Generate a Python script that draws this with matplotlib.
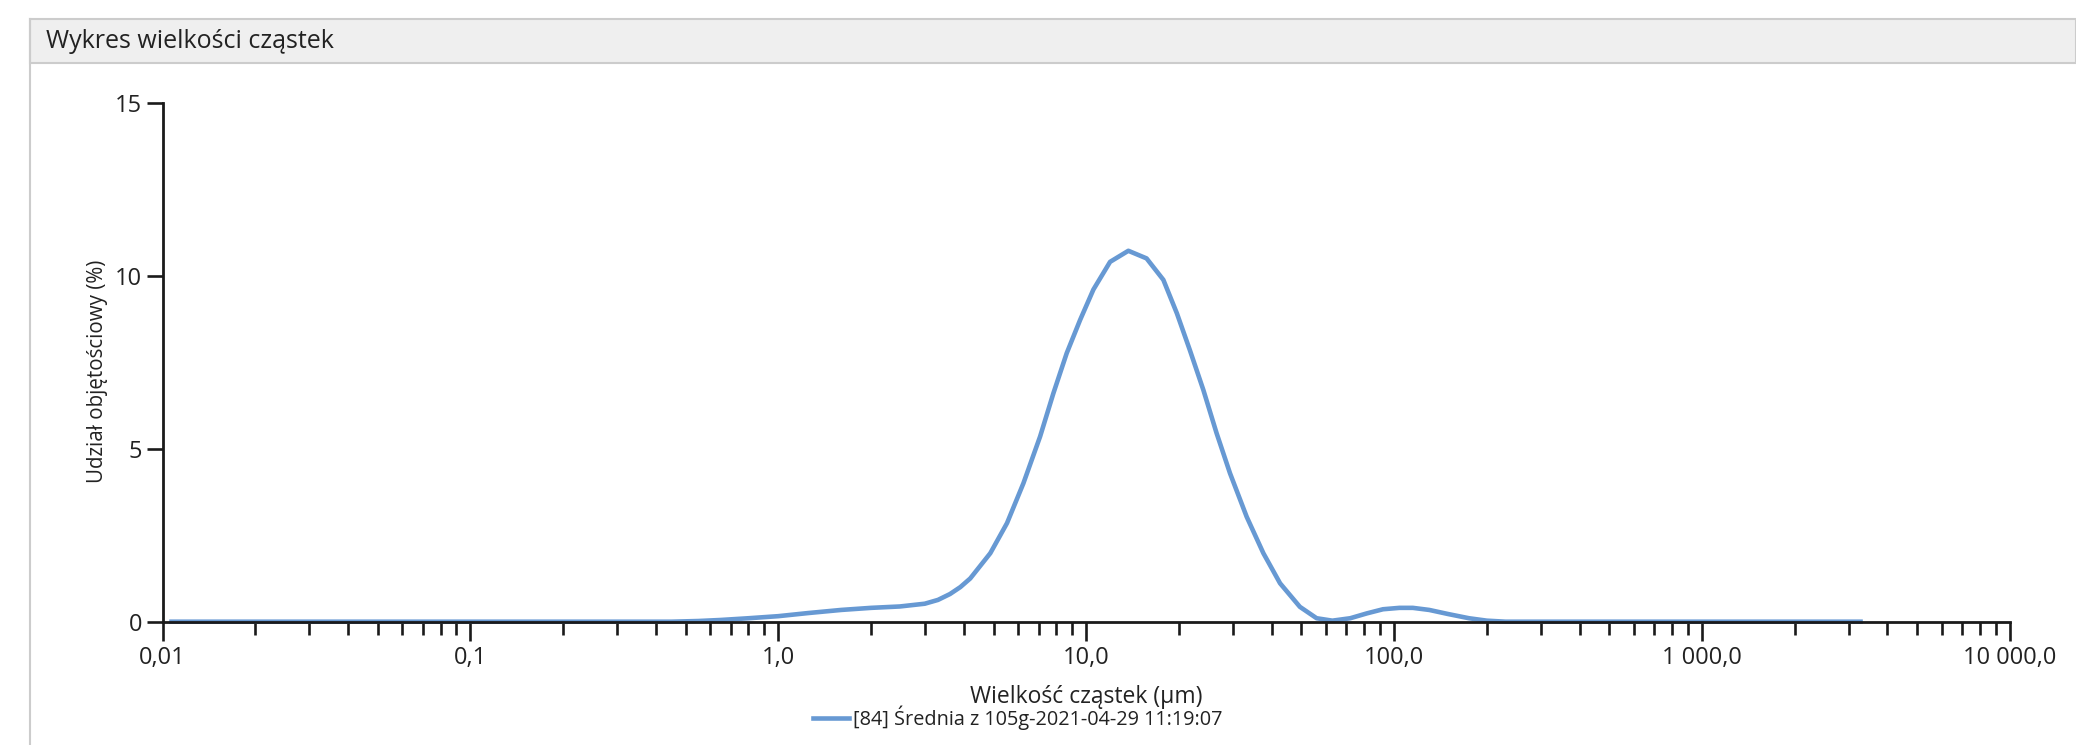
import matplotlib
matplotlib.use("Agg")
import matplotlib.pyplot as plt
from matplotlib.patches import Rectangle
from matplotlib.lines import Line2D
from matplotlib.ticker import LogLocator, NullFormatter

plt.rcParams['font.family'] = ['Open Sans', 'DejaVu Sans']

# Data
size_um = [0.0107, 0.45, 0.55, 0.65, 0.8, 1.0, 1.25, 1.6, 2.0, 2.48, 2.99,
           3.3, 3.61, 3.9, 4.2, 4.88, 5.53, 6.25, 7.08, 7.82, 8.64, 9.55,
           10.55, 11.95, 13.7, 15.7, 17.8, 19.7, 21.7, 24.0, 26.5, 29.3,
           33.2, 37.6, 42.6, 49.4, 56.0, 63.0, 72.0, 81.5, 92.0, 104.0,
           115.0, 130.0, 150.0, 175.0, 200.0, 230.0, 3270.0]
volume_pct = [0.0, 0.0, 0.02, 0.05, 0.10, 0.16, 0.25, 0.34, 0.40, 0.44, 0.52,
              0.63, 0.80, 1.00, 1.25, 1.98, 2.85, 4.00, 5.35, 6.60, 7.76, 8.72,
              9.60, 10.40, 10.72, 10.50, 9.88, 8.91, 7.85, 6.70, 5.45, 4.29,
              3.03, 1.98, 1.11, 0.43, 0.10, 0.03, 0.10, 0.24, 0.36, 0.40,
              0.40, 0.34, 0.22, 0.10, 0.03, 0.0, 0.0]

x_ticks = [0.01, 0.1, 1, 10, 100, 1000, 10000]
x_tick_labels = ['0,01', '0,1', '1,0', '10,0', '100,0', '1 000,0', '10 000,0']
y_ticks = [0, 5, 10, 15]
y_tick_labels = ['0', '5', '10', '15']

title = 'Wykres wielkości cząstek'
x_label = 'Wielkość cząstek (µm)'
y_label = 'Udział objętościowy (%)'
series_label = '[84] Średnia z 105g-2021-04-29 11:19:07'

line_color = '#6799d3'
text_color = '#222222'
axis_color = '#1a1a1a'

W, H = 2076, 745
fig = plt.figure(figsize=(W / 100, H / 100), dpi=100)
fig.patch.set_facecolor('white')

# panel header band and left border
fig.patches.append(Rectangle((30 / W, 1 - 63 / H), 1 - 30 / W, 44 / H,
                             transform=fig.transFigure, facecolor='#efefef',
                             edgecolor='#cccccc', linewidth=1.5))
fig.lines.append(Line2D([30 / W, 30 / W], [0, 1 - 19 / H], transform=fig.transFigure,
                        color='#cccccc', linewidth=1.5))
fig.text(46 / W, 1 - 42 / H, title, fontsize=18, color=text_color,
         ha='left', va='center')

left, right = 162.5 / W, 2010 / W
bottom, top = 1 - 621.7 / H, 1 - 102.7 / H
ax = fig.add_axes([left, bottom, right - left, top - bottom])

ax.plot(size_um, volume_pct, color=line_color, linewidth=3.3, clip_on=False,
        solid_joinstyle='round', label=series_label)

ax.set_xscale('log')
ax.set_xlim(0.01, 10000)
ax.set_ylim(0, 15)

ax.set_xticks(x_ticks)
ax.set_xticklabels(x_tick_labels)
ax.xaxis.set_minor_locator(LogLocator(base=10, subs=range(2, 10), numticks=100))
ax.xaxis.set_minor_formatter(NullFormatter())
ax.set_yticks(y_ticks)
ax.set_yticklabels(y_tick_labels)

for side in ['top', 'right']:
    ax.spines[side].set_visible(False)
for side in ['left', 'bottom']:
    ax.spines[side].set_color(axis_color)
    ax.spines[side].set_linewidth(2)

ax.tick_params(axis='x', which='major', length=13.5, width=1.9, color=axis_color,
               labelsize=17, labelcolor=text_color, pad=4)
ax.tick_params(axis='x', which='minor', length=9.5, width=1.9, color=axis_color)
ax.tick_params(axis='y', which='major', length=11.5, width=1.9, color=axis_color,
               labelsize=17, labelcolor=text_color, pad=3)

ax.set_xlabel(x_label, fontsize=16.5, color=text_color, va='center')
ax.xaxis.set_label_coords(0.5, (621.7 - 697) / 519.0)
ax.set_ylabel(y_label, fontsize=14.8, color=text_color, va='center')
ax.yaxis.set_label_coords((97.5 - 162.5) / 1847.5, (621.7 - 371) / 519.0)

ax.legend(loc='center', bbox_to_anchor=(1018 / W, 1 - 718 / H),
          bbox_transform=fig.transFigure, frameon=False, fontsize=14.3,
          handlelength=1.8, handletextpad=0.2, labelcolor=text_color)

fig.savefig('out.png', dpi=100, facecolor='white')
